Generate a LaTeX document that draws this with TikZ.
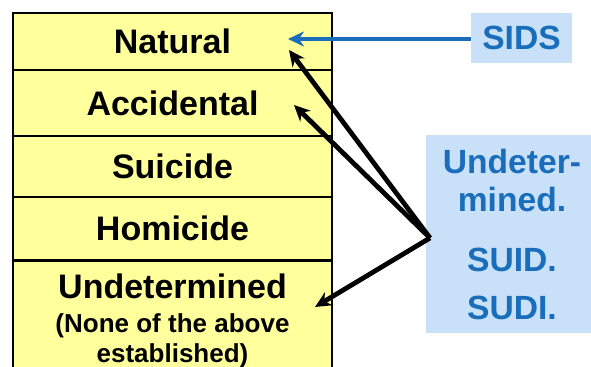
\documentclass[tikz,border=0pt]{standalone}
\usepackage{fontspec}
\setmainfont{Liberation Sans}
\usetikzlibrary{
    positioning,
    arrows.meta
}
\definecolor{filaamarilla}{HTML}{FFFF9C}
\definecolor{cajaazul}{HTML}{C8E1F8}
\definecolor{textoazul}{HTML}{1A6DBA}
\tikzset{
    >=Stealth,
    fila/.style={
        draw=black,
        line width=0.9pt,
        fill=filaamarilla,
        minimum width=159.5pt,
        inner sep=0pt,
        font=\bfseries\fontsize{17}{19}\selectfont
    },
    caja/.style={
        fill=cajaazul,
        text=textoazul,
        inner sep=0pt,
        align=center,
        font=\bfseries\fontsize{16.8}{19}\selectfont
    },
    flecha/.style={
        -{Stealth[length=8pt,width=7.5pt]},
        line width=2.4pt
    }
}

\begin{document}
\begin{tikzpicture}[
    x=0.5pt,
    y=-0.5pt
]
    \useasboundingbox (0,0) rectangle (591,367);

    % Filas
    \node[fila, minimum height=28.5pt] (nat) at (172.5,41.5)  {Natural};
    \node[fila, minimum height=33pt]   (acc) at (172.5,103)   {Accidental};
    \node[fila, minimum height=30.5pt] (sui) at (172.5,166.5) {Suicide};
    \node[fila, minimum height=31.5pt] (hom) at (172.5,228.5) {Homicide};
    \node[fila, minimum height=65pt, anchor=north] (und) at (172.5,260) {};
    \node[align=center, inner sep=0pt, anchor=north,
          font=\bfseries\fontsize{17}{19}\selectfont]
        (undtxt) at (172.5,273)
        {Undetermined\\[-2pt]
         {\fontsize{13}{12.5}\selectfont (None of the above}\\[-4pt]
         {\fontsize{13}{12.5}\selectfont established)}};

    % Cajas azules
    \node[caja, minimum width=50.5pt, minimum height=25pt] (sids) at (521.5,38) {SIDS};
    \node[caja, minimum width=86pt, minimum height=99pt] (suid) at (512,234)
        {Undeter-\\mined.\\[11pt]SUID.\\[5pt]SUDI.};

    % Puntas
    \coordinate (hub)   at (430,238);
    \coordinate (pNat)  at (289,50);
    \coordinate (pAcc)  at (294,105);
    \coordinate (pUnd)  at (315,307);
    \coordinate (pSids) at (288,39);

    % Flechas
    \draw[flecha, draw=textoazul] (sids.west |- pSids) -- (pSids);
    \draw[flecha] (hub) -- (pNat);
    \draw[flecha] (hub) -- (pAcc);
    \draw[flecha] (hub) -- (pUnd);

\end{tikzpicture}
\end{document}
